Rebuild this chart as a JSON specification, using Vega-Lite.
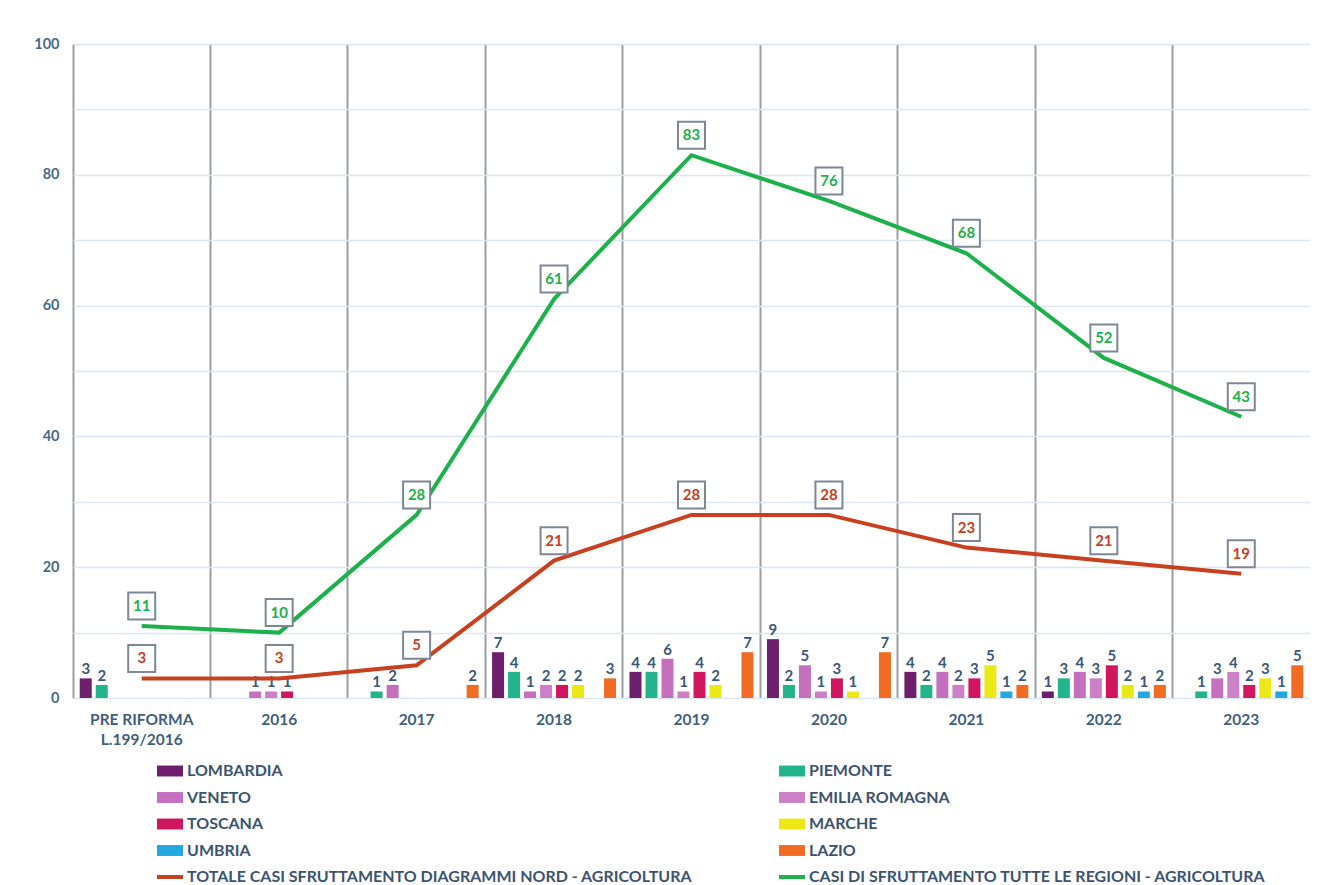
{
  "$schema": "https://vega.github.io/schema/vega-lite/v6.json",
  "width": 1237,
  "height": 654,
  "autosize": {"type": "none"},
  "padding": {"left": 73, "top": 44, "right": 9, "bottom": 187},
  "background": "white",
  "config": {
    "view": {"stroke": null},
    "font": "Lato",
    "text": {"font": "Lato"}
  },
  "datasets": {
    "bars": [
      {"anno": "PRE RIFORMA L.199/2016", "serie": "LOMBARDIA", "casi": 3},
      {"anno": "PRE RIFORMA L.199/2016", "serie": "PIEMONTE", "casi": 2},
      {"anno": "2016", "serie": "VENETO", "casi": 1},
      {"anno": "2016", "serie": "EMILIA ROMAGNA", "casi": 1},
      {"anno": "2016", "serie": "TOSCANA", "casi": 1},
      {"anno": "2017", "serie": "PIEMONTE", "casi": 1},
      {"anno": "2017", "serie": "VENETO", "casi": 2},
      {"anno": "2017", "serie": "LAZIO", "casi": 2},
      {"anno": "2018", "serie": "LOMBARDIA", "casi": 7},
      {"anno": "2018", "serie": "PIEMONTE", "casi": 4},
      {"anno": "2018", "serie": "VENETO", "casi": 1},
      {"anno": "2018", "serie": "EMILIA ROMAGNA", "casi": 2},
      {"anno": "2018", "serie": "TOSCANA", "casi": 2},
      {"anno": "2018", "serie": "MARCHE", "casi": 2},
      {"anno": "2018", "serie": "LAZIO", "casi": 3},
      {"anno": "2019", "serie": "LOMBARDIA", "casi": 4},
      {"anno": "2019", "serie": "PIEMONTE", "casi": 4},
      {"anno": "2019", "serie": "VENETO", "casi": 6},
      {"anno": "2019", "serie": "EMILIA ROMAGNA", "casi": 1},
      {"anno": "2019", "serie": "TOSCANA", "casi": 4},
      {"anno": "2019", "serie": "MARCHE", "casi": 2},
      {"anno": "2019", "serie": "LAZIO", "casi": 7},
      {"anno": "2020", "serie": "LOMBARDIA", "casi": 9},
      {"anno": "2020", "serie": "PIEMONTE", "casi": 2},
      {"anno": "2020", "serie": "VENETO", "casi": 5},
      {"anno": "2020", "serie": "EMILIA ROMAGNA", "casi": 1},
      {"anno": "2020", "serie": "TOSCANA", "casi": 3},
      {"anno": "2020", "serie": "MARCHE", "casi": 1},
      {"anno": "2020", "serie": "LAZIO", "casi": 7},
      {"anno": "2021", "serie": "LOMBARDIA", "casi": 4},
      {"anno": "2021", "serie": "PIEMONTE", "casi": 2},
      {"anno": "2021", "serie": "VENETO", "casi": 4},
      {"anno": "2021", "serie": "EMILIA ROMAGNA", "casi": 2},
      {"anno": "2021", "serie": "TOSCANA", "casi": 3},
      {"anno": "2021", "serie": "MARCHE", "casi": 5},
      {"anno": "2021", "serie": "UMBRIA", "casi": 1},
      {"anno": "2021", "serie": "LAZIO", "casi": 2},
      {"anno": "2022", "serie": "LOMBARDIA", "casi": 1},
      {"anno": "2022", "serie": "PIEMONTE", "casi": 3},
      {"anno": "2022", "serie": "VENETO", "casi": 4},
      {"anno": "2022", "serie": "EMILIA ROMAGNA", "casi": 3},
      {"anno": "2022", "serie": "TOSCANA", "casi": 5},
      {"anno": "2022", "serie": "MARCHE", "casi": 2},
      {"anno": "2022", "serie": "UMBRIA", "casi": 1},
      {"anno": "2022", "serie": "LAZIO", "casi": 2},
      {"anno": "2023", "serie": "PIEMONTE", "casi": 1},
      {"anno": "2023", "serie": "VENETO", "casi": 3},
      {"anno": "2023", "serie": "EMILIA ROMAGNA", "casi": 4},
      {"anno": "2023", "serie": "TOSCANA", "casi": 2},
      {"anno": "2023", "serie": "MARCHE", "casi": 3},
      {"anno": "2023", "serie": "UMBRIA", "casi": 1},
      {"anno": "2023", "serie": "LAZIO", "casi": 5}
    ],
    "linee": [
      {"anno": "PRE RIFORMA L.199/2016", "serie": "TOTALE CASI SFRUTTAMENTO DIAGRAMMI NORD - AGRICOLTURA", "casi": 3},
      {"anno": "2016", "serie": "TOTALE CASI SFRUTTAMENTO DIAGRAMMI NORD - AGRICOLTURA", "casi": 3},
      {"anno": "2017", "serie": "TOTALE CASI SFRUTTAMENTO DIAGRAMMI NORD - AGRICOLTURA", "casi": 5},
      {"anno": "2018", "serie": "TOTALE CASI SFRUTTAMENTO DIAGRAMMI NORD - AGRICOLTURA", "casi": 21},
      {"anno": "2019", "serie": "TOTALE CASI SFRUTTAMENTO DIAGRAMMI NORD - AGRICOLTURA", "casi": 28},
      {"anno": "2020", "serie": "TOTALE CASI SFRUTTAMENTO DIAGRAMMI NORD - AGRICOLTURA", "casi": 28},
      {"anno": "2021", "serie": "TOTALE CASI SFRUTTAMENTO DIAGRAMMI NORD - AGRICOLTURA", "casi": 23},
      {"anno": "2022", "serie": "TOTALE CASI SFRUTTAMENTO DIAGRAMMI NORD - AGRICOLTURA", "casi": 21},
      {"anno": "2023", "serie": "TOTALE CASI SFRUTTAMENTO DIAGRAMMI NORD - AGRICOLTURA", "casi": 19},
      {"anno": "PRE RIFORMA L.199/2016", "serie": "CASI DI SFRUTTAMENTO TUTTE LE REGIONI - AGRICOLTURA", "casi": 11},
      {"anno": "2016", "serie": "CASI DI SFRUTTAMENTO TUTTE LE REGIONI - AGRICOLTURA", "casi": 10},
      {"anno": "2017", "serie": "CASI DI SFRUTTAMENTO TUTTE LE REGIONI - AGRICOLTURA", "casi": 28},
      {"anno": "2018", "serie": "CASI DI SFRUTTAMENTO TUTTE LE REGIONI - AGRICOLTURA", "casi": 61},
      {"anno": "2019", "serie": "CASI DI SFRUTTAMENTO TUTTE LE REGIONI - AGRICOLTURA", "casi": 83},
      {"anno": "2020", "serie": "CASI DI SFRUTTAMENTO TUTTE LE REGIONI - AGRICOLTURA", "casi": 76},
      {"anno": "2021", "serie": "CASI DI SFRUTTAMENTO TUTTE LE REGIONI - AGRICOLTURA", "casi": 68},
      {"anno": "2022", "serie": "CASI DI SFRUTTAMENTO TUTTE LE REGIONI - AGRICOLTURA", "casi": 52},
      {"anno": "2023", "serie": "CASI DI SFRUTTAMENTO TUTTE LE REGIONI - AGRICOLTURA", "casi": 43}
    ]
  },
  "encoding": {
    "x": {
      "field": "anno",
      "type": "nominal",
      "sort": ["PRE RIFORMA L.199/2016", "2016", "2017", "2018", "2019", "2020", "2021", "2022", "2023"],
      "scale": {"paddingInner": 0, "paddingOuter": 0},
      "axis": {
        "title": null,
        "labelAngle": 0,
        "grid": true,
        "bandPosition": 0,
        "gridColor": "#9a9ea3",
        "gridWidth": 2,
        "domain": false,
        "ticks": false,
        "labelPadding": 14,
        "labelFont": "Lato",
        "labelFontWeight": "bold",
        "labelFontSize": 15.5,
        "labelColor": "#3f5f7e",
        "labelLineHeight": 20,
        "labelExpr": "datum.label == 'PRE RIFORMA L.199/2016' ? ['PRE RIFORMA', 'L.199/2016'] : datum.label"
      }
    },
    "y": {
      "field": "casi",
      "type": "quantitative",
      "scale": {"domain": [0, 100], "nice": false},
      "axis": {
        "title": null,
        "values": [0, 10, 20, 30, 40, 50, 60, 70, 80, 90, 100],
        "labelExpr": "datum.value % 20 === 0 ? datum.label : ''",
        "gridColor": "#dbe6f1",
        "gridWidth": 1.5,
        "domain": false,
        "ticks": false,
        "labelPadding": 14,
        "labelFont": "Lato",
        "labelFontWeight": "bold",
        "labelFontSize": 14.5,
        "labelColor": "#4a6a88"
      }
    }
  },
  "layer": [
    {
      "data": {"name": "bars"},
      "mark": {"type": "bar"},
      "encoding": {
        "xOffset": {
          "field": "serie",
          "type": "nominal",
          "sort": ["LOMBARDIA", "PIEMONTE", "VENETO", "EMILIA ROMAGNA", "TOSCANA", "MARCHE", "UMBRIA", "LAZIO"],
          "scale": {"domain": ["LOMBARDIA", "PIEMONTE", "VENETO", "EMILIA ROMAGNA", "TOSCANA", "MARCHE", "UMBRIA", "LAZIO"], "paddingInner": 0.25, "paddingOuter": 0.42}
        },
        "color": {
          "field": "serie",
          "type": "nominal",
          "scale": {
            "domain": ["LOMBARDIA", "PIEMONTE", "VENETO", "EMILIA ROMAGNA", "TOSCANA", "MARCHE", "UMBRIA", "LAZIO", "TOTALE CASI SFRUTTAMENTO DIAGRAMMI NORD - AGRICOLTURA", "CASI DI SFRUTTAMENTO TUTTE LE REGIONI - AGRICOLTURA"],
            "range": ["#6d1f6e", "#22b48b", "#c56fbf", "#cb80c7", "#d0165f", "#ece816", "#21a8e1", "#f26b22", "#c8401f", "#1cb14b"]
          },
          "legend": {
            "title": null,
            "orient": "none",
            "legendX": 89,
            "legendY": 719,
            "padding": 0,
            "direction": "horizontal",
            "columns": 2,
            "columnPadding": 78,
            "rowPadding": 10.5,
            "symbolSize": 676,
            "labelOffset": 9,
            "labelFont": "Lato",
            "labelFontWeight": "bold",
            "labelFontSize": 16,
            "labelColor": "#3c5470",
            "labelLimit": 700,
            "encode": {
              "symbols": {
                "update": {
                  "shape": {"signal": "indexof(['TOTALE CASI SFRUTTAMENTO DIAGRAMMI NORD - AGRICOLTURA', 'CASI DI SFRUTTAMENTO TUTTE LE REGIONI - AGRICOLTURA'], datum.value) >= 0 ? 'stroke' : 'M-1,-0.42H1V0.42H-1Z'"},
                  "fill": {"signal": "indexof(['TOTALE CASI SFRUTTAMENTO DIAGRAMMI NORD - AGRICOLTURA', 'CASI DI SFRUTTAMENTO TUTTE LE REGIONI - AGRICOLTURA'], datum.value) >= 0 ? 'transparent' : scale('color', datum.value)"},
                  "stroke": {"signal": "scale('color', datum.value)"},
                  "strokeWidth": {"signal": "indexof(['TOTALE CASI SFRUTTAMENTO DIAGRAMMI NORD - AGRICOLTURA', 'CASI DI SFRUTTAMENTO TUTTE LE REGIONI - AGRICOLTURA'], datum.value) >= 0 ? 4 : 0"},
                  "opacity": {"value": 1}
                }
              }
            }
          }
        }
      }
    },
    {
      "data": {"name": "bars"},
      "mark": {"type": "text", "dy": -9, "font": "Lato", "fontWeight": "bold", "fontSize": 15, "color": "#3b5878"},
      "encoding": {
        "xOffset": {
          "field": "serie",
          "type": "nominal",
          "sort": ["LOMBARDIA", "PIEMONTE", "VENETO", "EMILIA ROMAGNA", "TOSCANA", "MARCHE", "UMBRIA", "LAZIO"]
        },
        "text": {"field": "casi", "type": "quantitative"}
      }
    },
    {
      "data": {"name": "linee"},
      "mark": {"type": "line", "strokeWidth": 4},
      "encoding": {
        "color": {"field": "serie", "type": "nominal"}
      }
    },
    {
      "data": {"name": "linee"},
      "mark": {"type": "point", "shape": "square", "size": 729, "filled": true, "fill": "white", "stroke": "#7d8894", "strokeWidth": 2, "opacity": 1, "yOffset": -20},
      "encoding": {}
    },
    {
      "data": {"name": "linee"},
      "mark": {"type": "text", "yOffset": -20, "font": "Lato", "fontWeight": "bold", "fontSize": 15},
      "encoding": {
        "text": {"field": "casi", "type": "quantitative"},
        "color": {"field": "serie", "type": "nominal", "legend": null}
      }
    },
    {
      "mark": {"type": "rule", "color": "#9a9ea3", "strokeWidth": 2},
      "encoding": {"x": {"datum": "2023", "bandPosition": 1}, "y": null}
    }
  ]
}
